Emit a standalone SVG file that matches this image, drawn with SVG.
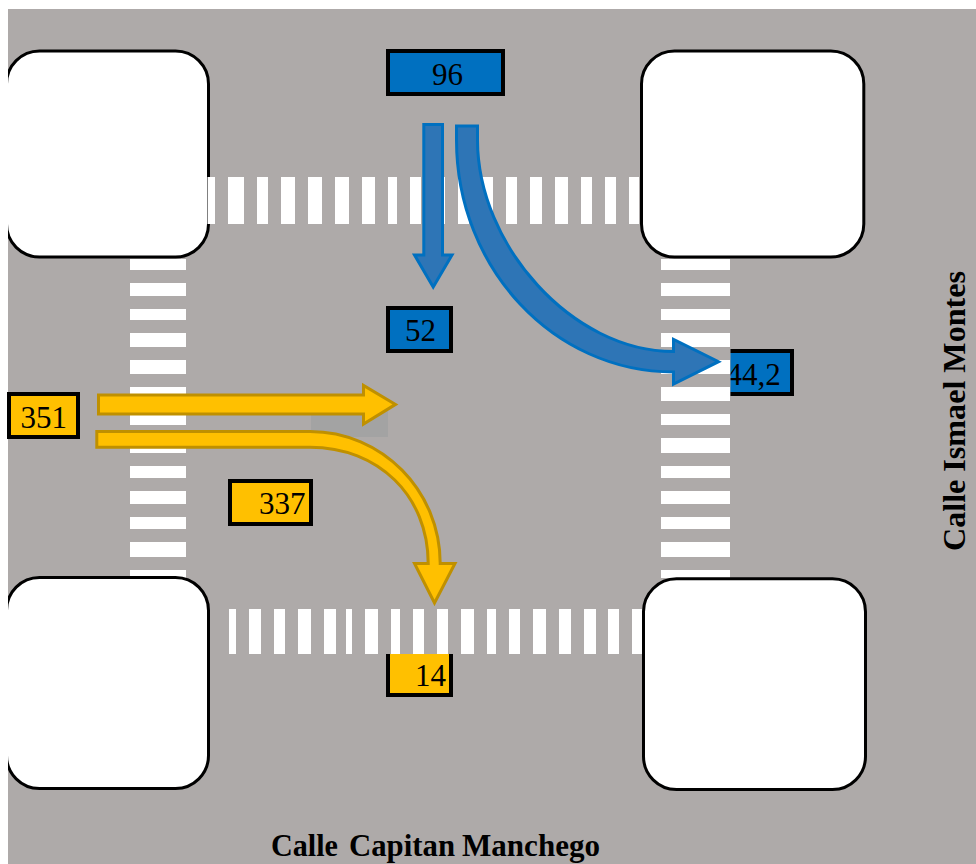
<svg xmlns="http://www.w3.org/2000/svg" width="976" height="864" viewBox="0 0 976 864">
<style>
.block{fill:#fff;stroke:#000;stroke-width:3}
.s{fill:#fff}
.road{fill:#aeaaa9}
.blue{fill:#0070c0;stroke:#000;stroke-width:4}
.yel{fill:#ffc000;stroke:#000;stroke-width:4}
.ab{fill:#2e75b6;stroke:#0070c0;stroke-width:3}
.ay{fill:#ffc000;stroke:#bf9000;stroke-width:3}
text{font-family:"Liberation Serif","Times New Roman",serif;fill:#000}
.n{font-size:31px}
.t{font-size:31px;font-weight:bold}
</style>
<rect width="976" height="864" fill="#fff"/>
<rect class="road" x="8" y="9" width="968" height="855"/>
<rect x="311" y="405" width="77" height="32" fill="#a3a3a3"/>

<g id="crosswalk-left">
<rect class="s" x="130" y="259" width="56" height="11"/><rect class="s" x="130" y="283" width="56" height="13"/><rect class="s" x="130" y="309" width="56" height="11"/><rect class="s" x="130" y="333" width="56" height="14"/><rect class="s" x="130" y="360" width="56" height="14"/><rect class="s" x="130" y="387" width="56" height="13"/><rect class="s" x="130" y="412" width="56" height="13"/><rect class="s" x="130" y="439" width="56" height="14"/><rect class="s" x="130" y="466" width="56" height="12"/><rect class="s" x="130" y="491" width="56" height="13"/><rect class="s" x="130" y="517" width="56" height="12"/><rect class="s" x="130" y="542" width="56" height="15"/><rect class="s" x="130" y="570" width="56" height="8"/>
</g>

<g id="label-44-2">
<rect class="blue" x="725" y="351" width="67" height="43"/>
<text class="n" x="726.5" y="385">44,2</text>
<rect class="road" x="722" y="345" width="8.5" height="56"/>
</g>

<g id="crosswalk-right">
<rect class="s" x="661" y="259" width="69" height="11"/><rect class="s" x="661" y="283" width="69" height="13"/><rect class="s" x="661" y="309" width="69" height="11"/><rect class="s" x="661" y="333" width="69" height="14"/><rect class="s" x="661" y="360" width="69" height="14"/><rect class="s" x="661" y="387" width="69" height="14"/><rect class="s" x="661" y="414" width="69" height="11"/><rect class="s" x="661" y="438" width="69" height="15"/><rect class="s" x="661" y="466" width="69" height="12"/><rect class="s" x="661" y="491" width="69" height="13"/><rect class="s" x="661" y="517" width="69" height="12"/><rect class="s" x="661" y="542" width="69" height="15"/><rect class="s" x="661" y="570" width="69" height="8"/>
</g>

<g id="block-top-left"><rect class="block" x="6.5" y="51" width="202" height="206" rx="33"/></g>
<g id="block-top-right"><rect class="block" x="641.5" y="51" width="222.3" height="206" rx="33"/></g>
<g id="block-bottom-left"><rect class="block" x="6.5" y="577.5" width="202" height="211" rx="33"/></g>
<g id="block-bottom-right"><rect class="block" x="643.5" y="578.8" width="222" height="210.7" rx="33"/></g>
<rect x="0" y="0" width="8" height="864" fill="#fff"/>

<g id="crosswalk-top">
<rect class="s" x="207.5" y="177" width="7.5" height="47"/><rect class="s" x="228" y="177" width="16" height="47"/><rect class="s" x="257" y="177" width="11" height="47"/><rect class="s" x="281" y="177" width="14" height="47"/><rect class="s" x="308" y="177" width="14" height="47"/><rect class="s" x="335" y="177" width="14" height="47"/><rect class="s" x="362" y="177" width="13" height="47"/><rect class="s" x="388" y="177" width="9" height="47"/><rect class="s" x="410" y="177" width="11" height="47"/><rect class="s" x="434" y="177" width="11" height="47"/><rect class="s" x="458" y="177" width="11" height="47"/><rect class="s" x="482" y="177" width="11" height="47"/><rect class="s" x="506" y="177" width="11" height="47"/><rect class="s" x="530" y="177" width="12" height="47"/><rect class="s" x="555" y="177" width="13" height="47"/><rect class="s" x="581" y="177" width="11" height="47"/><rect class="s" x="605" y="177" width="11" height="47"/><rect class="s" x="629" y="177" width="10" height="47"/>
</g>

<g id="label-14">
<rect class="yel" x="388" y="652" width="63" height="43"/>
<text class="n" x="415" y="686">14</text>
<rect class="road" x="380" y="640" width="80" height="14"/>
</g>

<g id="crosswalk-bottom">
<rect class="s" x="229" y="609" width="7" height="45"/><rect class="s" x="249" y="609" width="12" height="45"/><rect class="s" x="274" y="609" width="11" height="45"/><rect class="s" x="298" y="609" width="13" height="45"/><rect class="s" x="324" y="609" width="12" height="45"/><rect class="s" x="346" y="609" width="6" height="45"/><rect class="s" x="365" y="609" width="13" height="45"/><rect class="s" x="391" y="609" width="9" height="45"/><rect class="s" x="413" y="609" width="11" height="45"/><rect class="s" x="437" y="609" width="11" height="45"/><rect class="s" x="461" y="609" width="13" height="45"/><rect class="s" x="487" y="609" width="9" height="45"/><rect class="s" x="509" y="609" width="11" height="45"/><rect class="s" x="533" y="609" width="13" height="45"/><rect class="s" x="559" y="609" width="12" height="45"/><rect class="s" x="584" y="609" width="12" height="45"/><rect class="s" x="608" y="609" width="11" height="45"/><rect class="s" x="632" y="609" width="10" height="45"/>
</g>

<g id="connectors">
<path class="ab" d="M423.8 124.5H442.5V255H452L433.2 287L414.5 255H423.8Z"/>
<path class="ab" d="M456.5 126H477.5V140C477.5 245 572 351.5 673.5 351.5V339.5L718.5 361.7L673.5 384V372C553.7 372 456.5 268 456.5 140Z"/>
<path class="ay" d="M98.5 395H363.5V385.5L395.5 404.4L363.5 424V414H98.5Z"/>
<path class="ay" d="M96.8 431.5H310C381.8 431.5 440.2 490.6 440.2 563.5H455L434.5 603L414.5 563.5H428.2C428.2 496 378.4 447.2 310 447.2H96.8Z"/>
</g>

<g id="label-96"><rect class="blue" x="388" y="51" width="115" height="43"/><text class="n" x="432" y="85">96</text></g>
<g id="label-52"><rect class="blue" x="388" y="308" width="63" height="43"/><text class="n" x="405" y="341">52</text></g>
<g id="label-351"><rect class="yel" x="9" y="394" width="69" height="43"/><text class="n" x="20.5" y="428">351</text></g>
<g id="label-337"><rect class="yel" x="230" y="481" width="81" height="43"/><text class="n" x="259" y="514">337</text></g>

<g id="street-names">
<text class="t" x="271" y="856" textLength="67" lengthAdjust="spacingAndGlyphs">Calle</text>
<text class="t" x="349" y="856" textLength="106" lengthAdjust="spacingAndGlyphs">Capitan</text>
<text class="t" x="462" y="856" textLength="138" lengthAdjust="spacingAndGlyphs">Manchego</text>
<text class="t" transform="translate(965 551) rotate(-90)" style="font-size:32px" textLength="280" lengthAdjust="spacingAndGlyphs">Calle Ismael Montes</text>
</g>
</svg>
